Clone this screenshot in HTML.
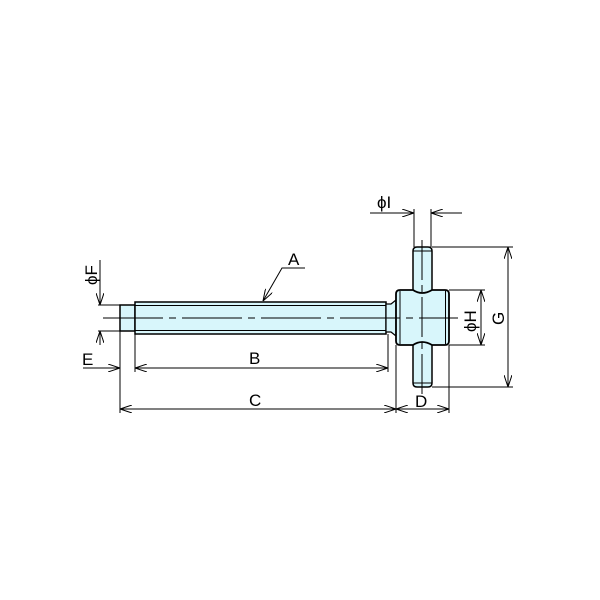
<!DOCTYPE html>
<html><head><meta charset="utf-8"><style>html,body{margin:0;padding:0;background:#fff}svg{display:block}</style></head>
<body>
<svg width="600" height="600" viewBox="0 0 600 600" xmlns="http://www.w3.org/2000/svg" font-family="Liberation Sans, sans-serif" font-size="17">
<defs>
<marker id="a" viewBox="0 0 12 8" refX="12" refY="4" markerWidth="12" markerHeight="8" orient="auto-start-reverse" markerUnits="userSpaceOnUse">
<path d="M0,0 L12,4 L0,8" fill="none" stroke="#000" stroke-width="1"/></marker>
</defs>
<g stroke="#000" fill="#d8f6fb">
<rect x="120" y="305" width="15" height="26" stroke-width="1.5"/>
<rect x="135" y="302" width="251" height="32" stroke-width="1.5"/>
<line x1="135" y1="305.5" x2="386" y2="305.5" stroke-width="1"/>
<line x1="135" y1="330.5" x2="386" y2="330.5" stroke-width="1"/>
<path d="M386,304 L391,304 L396,300 L396,336 L391,332 L386,332 Z" stroke-width="1.2"/>
<path d="M413,251 Q413,247 417,247 L428,247 Q432,247 432,251 L432,383 Q432,387 428,387 L417,387 Q413,387 413,383 Z" stroke-width="1.5"/>
<line x1="413" y1="251" x2="432" y2="251" stroke-width="1"/>
<line x1="413" y1="383" x2="432" y2="383" stroke-width="1"/>
<path d="M400,290 L413,290 Q422,296 432,290 L445,290 Q449,290 449,294 L449,341 Q449,345 445,345 L432,345 Q422,339 413,345 L400,345 Q396,345 396,341 L396,294 Q396,290 400,290 Z" stroke-width="1.8"/>
<line x1="400" y1="291" x2="400" y2="344" stroke-width="1"/>
<line x1="445.5" y1="291" x2="445.5" y2="344" stroke-width="1"/>
</g>
<g stroke="#000" stroke-width="1" fill="none">
<line x1="103" y1="318" x2="458" y2="318" stroke-dasharray="60,6,7,6"/>
<line x1="422" y1="240" x2="422" y2="395" stroke-dasharray="40,5,7,5"/>
<line x1="98" y1="305" x2="120" y2="305"/>
<line x1="98" y1="331" x2="120" y2="331"/>
<line x1="120" y1="331" x2="120" y2="413"/>
<line x1="135" y1="334" x2="135" y2="372"/>
<line x1="388" y1="334" x2="388" y2="372"/>
<line x1="396" y1="345" x2="396" y2="413"/>
<line x1="449" y1="345" x2="449" y2="413"/>
<line x1="414" y1="209" x2="414" y2="247"/>
<line x1="431" y1="209" x2="431" y2="247"/>
<line x1="432" y1="247" x2="513" y2="247"/>
<line x1="432" y1="387" x2="513" y2="387"/>
<line x1="449" y1="290" x2="485" y2="290"/>
<line x1="449" y1="345" x2="485" y2="345"/>
<line x1="100" y1="260" x2="100" y2="305" marker-end="url(#a)"/>
<line x1="100" y1="345" x2="100" y2="331" marker-end="url(#a)"/>
<line x1="83" y1="368" x2="120" y2="368" marker-end="url(#a)"/>
<line x1="135" y1="368" x2="388" y2="368" marker-start="url(#a)" marker-end="url(#a)"/>
<line x1="120" y1="409" x2="396" y2="409" marker-start="url(#a)" marker-end="url(#a)"/>
<line x1="396" y1="409" x2="449" y2="409" marker-start="url(#a)" marker-end="url(#a)"/>
<line x1="370" y1="213" x2="414" y2="213" marker-end="url(#a)"/>
<line x1="462" y1="213" x2="431" y2="213" marker-end="url(#a)"/>
<line x1="508" y1="247" x2="508" y2="387" marker-start="url(#a)" marker-end="url(#a)"/>
<line x1="481" y1="290" x2="481" y2="345" marker-start="url(#a)" marker-end="url(#a)"/>
<polyline points="305,268 282,268 263,301" marker-end="url(#a)"/>
</g>
<g fill="#000">
<text x="288" y="265">A</text>
<text x="249" y="364">B</text>
<text x="249" y="406">C</text>
<text x="415" y="407">D</text>
<text x="82" y="365">E</text>
<text x="377" y="208">ϕI</text>
<text transform="translate(97,285) rotate(-90)">ϕF</text>
<text transform="translate(476,332) rotate(-90)">ϕH</text>
<text transform="translate(504,325) rotate(-90)">G</text>
</g>
</svg>
</body></html>
